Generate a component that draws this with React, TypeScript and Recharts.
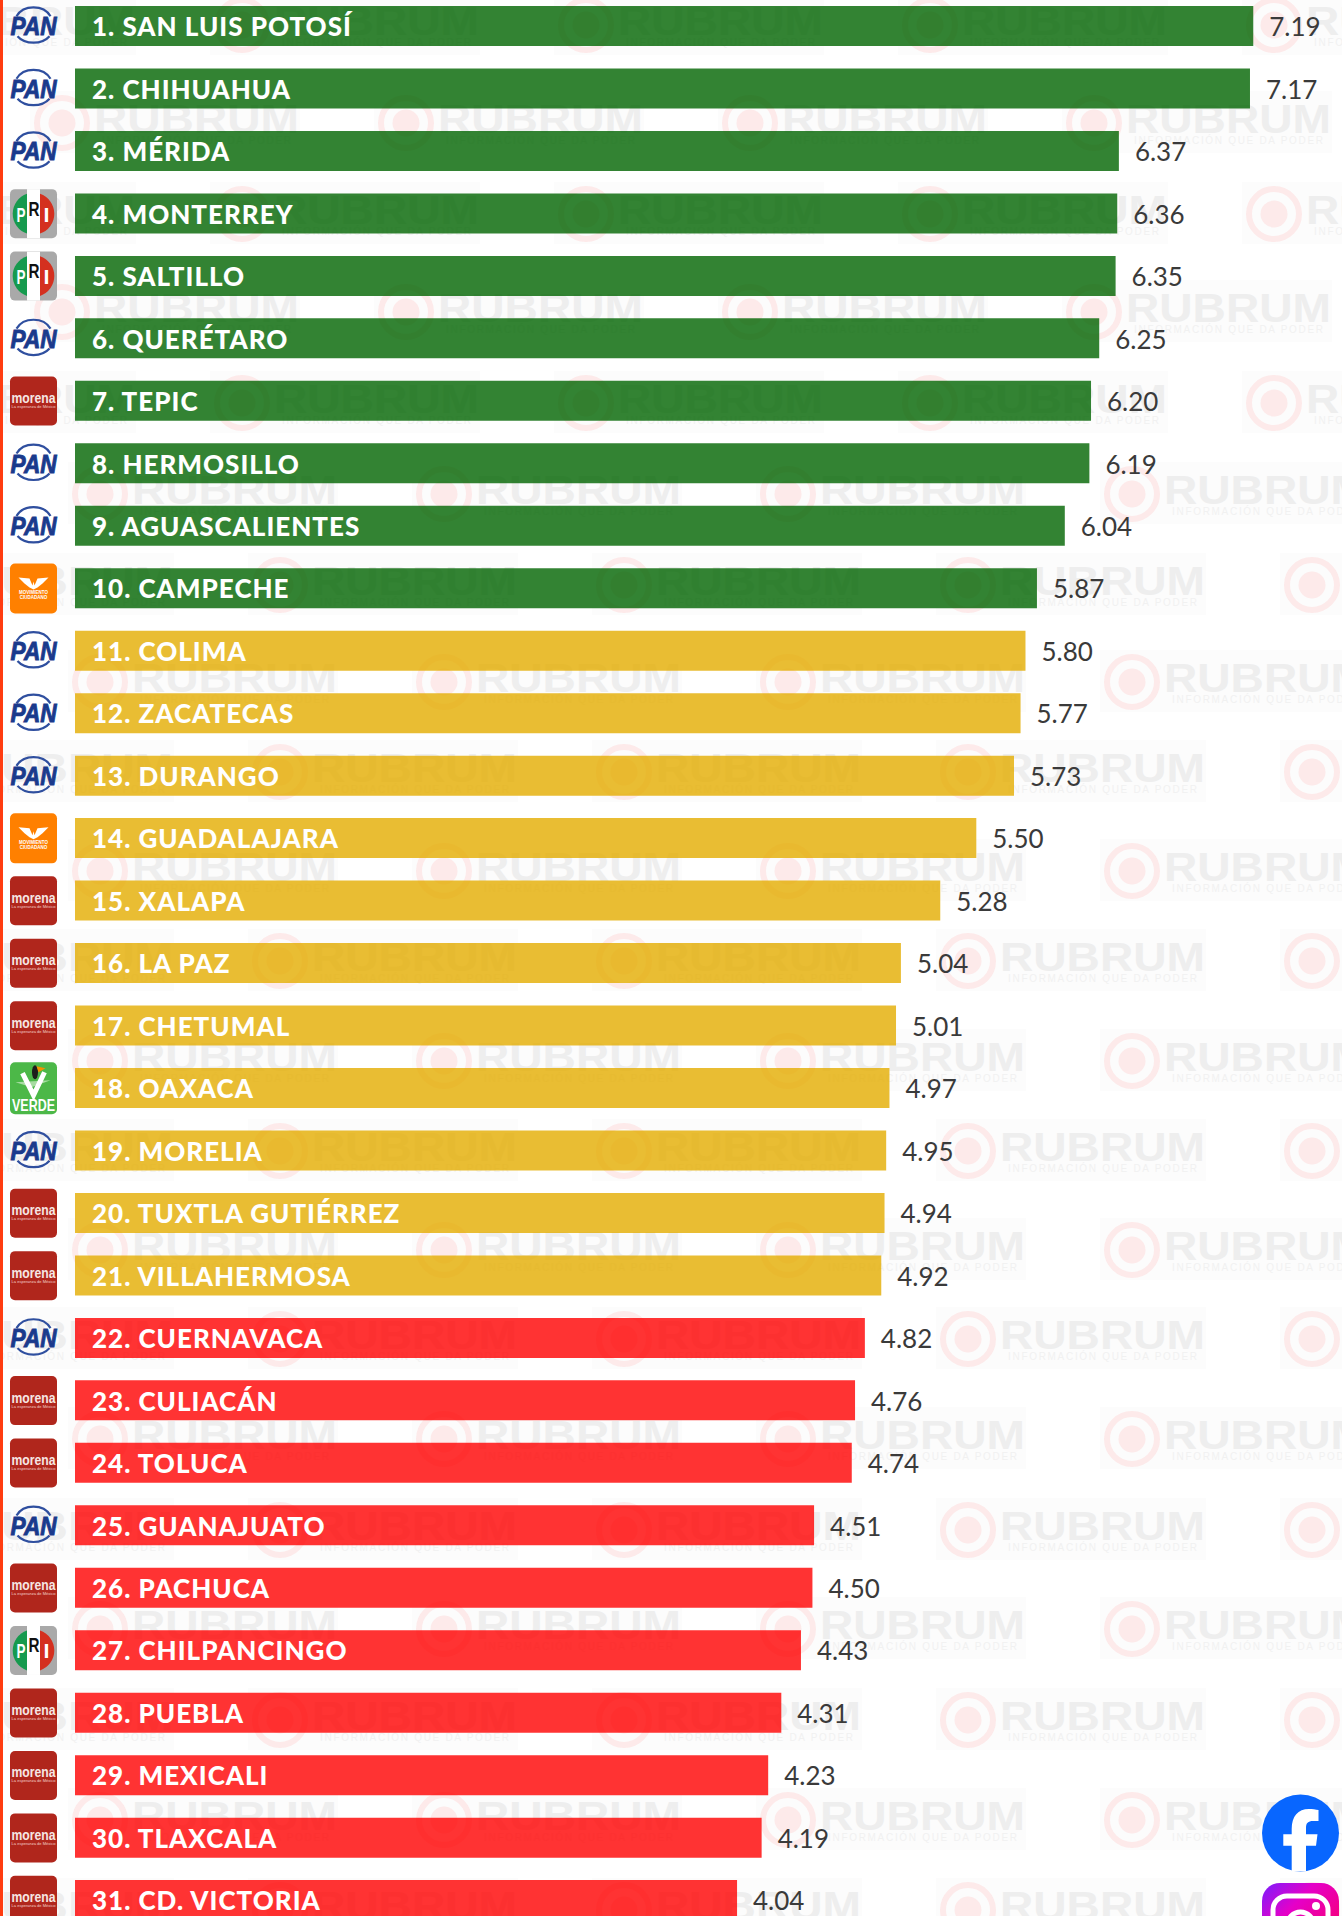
import React from 'react';
import { BarChart, Bar, XAxis, YAxis, Cell, LabelList } from 'recharts';

const cities = [
  '1. SAN LUIS POTOSÍ', '2. CHIHUAHUA', '3. MÉRIDA', '4. MONTERREY', '5. SALTILLO', '6. QUERÉTARO',
  '7. TEPIC', '8. HERMOSILLO', '9. AGUASCALIENTES', '10. CAMPECHE', '11. COLIMA', '12. ZACATECAS',
  '13. DURANGO', '14. GUADALAJARA', '15. XALAPA', '16. LA PAZ', '17. CHETUMAL', '18. OAXACA',
  '19. MORELIA', '20. TUXTLA GUTIÉRREZ', '21. VILLAHERMOSA', '22. CUERNAVACA', '23. CULIACÁN',
  '24. TOLUCA', '25. GUANAJUATO', '26. PACHUCA', '27. CHILPANCINGO', '28. PUEBLA', '29. MEXICALI',
  '30. TLAXCALA', '31. CD. VICTORIA',
];

const scores = [
  7.19, 7.17, 6.37, 6.36, 6.35, 6.25, 6.2, 6.19, 6.04, 5.87, 5.8, 5.77, 5.73, 5.5, 5.28, 5.04, 5.01,
  4.97, 4.95, 4.94, 4.92, 4.82, 4.76, 4.74, 4.51, 4.5, 4.43, 4.31, 4.23, 4.19, 4.04,
];

const parties = [
  'PAN', 'PAN', 'PAN', 'PRI', 'PRI', 'PAN', 'MORENA', 'PAN', 'PAN', 'MC', 'PAN', 'PAN', 'PAN', 'MC',
  'MORENA', 'MORENA', 'MORENA', 'VERDE', 'PAN', 'MORENA', 'MORENA', 'PAN', 'MORENA', 'MORENA', 'PAN',
  'MORENA', 'PRI', 'MORENA', 'MORENA', 'MORENA', 'MORENA',
];

const tiers = [
  'high', 'high', 'high', 'high', 'high', 'high', 'high', 'high', 'high', 'high',
  'mid', 'mid', 'mid', 'mid', 'mid', 'mid', 'mid', 'mid', 'mid', 'mid', 'mid',
  'low', 'low', 'low', 'low', 'low', 'low', 'low', 'low', 'low', 'low',
];

// bars are 80% opaque so the watermark shows through them
const tierColors: Record<string, string> = { high: '#006400', mid: '#e4ad00', low: '#ff0000' };

const rows = cities.map((name, i) => ({ name, score: scores[i], party: parties[i], tier: tiers[i] }));

// watermark tiles, centre of each ring
const watermarkGroups = [
  { ys: [25, 214, 403], xs: [-102, 242, 586, 930, 1274] },
  { ys: [123, 312], xs: [62, 406, 750, 1094] },
  { ys: [494, 682, 871, 1061, 1250, 1439, 1629, 1820], xs: [100, 444, 788, 1132] },
  { ys: [585, 772, 961, 1151, 1339, 1530, 1720, 1910], xs: [-64, 280, 624, 968, 1312] },
];

const Watermark = ({ x, y }: { x: number; y: number }) => (
  <g>
    <rect x={x - 32} y={y - 32} width={270} height={62} fill="#fcfcfc" />
    <circle cx={x} cy={y} r={25} fill="none" stroke="#fdeaea" strokeWidth={6} />
    <circle cx={x} cy={y} r={13.5} fill="#fdeaea" />
    <text x={x + 32} y={y + 10} fontFamily="Liberation Sans" fontWeight={700} fontSize={40} fill="#eeeeee" textLength={205} lengthAdjust="spacingAndGlyphs">
      RUBRUM
    </text>
    <text x={x + 40} y={y + 21} fontFamily="Liberation Sans" fontSize={10} fill="#f1f1f1" textLength={189}>
      INFORMACIÓN QUE DA PODER
    </text>
  </g>
);

const PanLogo = () => (
  <g>
    <path d="M-17 -10 A19 16 0 0 1 17 -10" fill="none" stroke="#2f4f9f" strokeWidth={2.2} />
    <path d="M-16 10 A19 14 0 0 0 16 10" fill="none" stroke="#2f4f9f" strokeWidth={2.2} />
    <text x={-23} y={9} fontFamily="Liberation Sans" fontStyle="italic" fontWeight={700} fontSize={25} fill="#1a3a8c" stroke="#1a3a8c" strokeWidth={0.9} textLength={46} lengthAdjust="spacingAndGlyphs">
      PAN
    </text>
  </g>
);

const PriLogo = () => (
  <g>
    <rect x={-23.5} y={-24.5} width={47} height={49} rx={5} fill="#a9a9a9" />
    <rect x={-6.5} y={-24.5} width={13} height={49} fill="#fff" />
    <path d="M-6.5 -19.9 A21 21 0 0 0 -6.5 19.9 Z" fill="#169a4e" />
    <path d="M6.5 -19.9 A21 21 0 0 1 6.5 19.9 Z" fill="#d4301f" />
    <g fontFamily="Liberation Sans" fontWeight={700} fontSize={21}>
      <text x={-17} y={8} fill="#fff" textLength={9} lengthAdjust="spacingAndGlyphs">P</text>
      <text x={-5} y={2} fill="#111" textLength={11} lengthAdjust="spacingAndGlyphs">R</text>
      <text x={10} y={8} fill="#fff" textLength={6} lengthAdjust="spacingAndGlyphs">I</text>
    </g>
  </g>
);

const MorenaLogo = () => (
  <g>
    <rect x={-23.5} y={-24.5} width={47} height={49} rx={5} fill="#b0261c" />
    <text x={-22} y={2} fontFamily="Liberation Sans" fontWeight={700} fontSize={14} fill="#f6e6e4" textLength={44} lengthAdjust="spacingAndGlyphs">
      morena
    </text>
    <text x={-22} y={7} fontFamily="Liberation Sans" fontSize={4} fill="#f2d0cc" textLength={44} lengthAdjust="spacingAndGlyphs">
      La esperanza de México
    </text>
  </g>
);

const McLogo = () => (
  <g>
    <rect x={-23.5} y={-25} width={47} height={50} rx={5} fill="#ff8000" />
    <path d="M-15 -11 L-4 -10 L-1 -3 L0 -7 L1 -3 L4 -10 L15 -11 L9 -5 L4 -1 L0 1 L-4 -1 L-9 -5 Z" fill="#fff" />
    <g fontFamily="Liberation Sans" fontWeight={700} fontSize={4.5} fill="#fff" textAnchor="middle">
      <text x={0} y={6}>MOVIMIENTO</text>
      <text x={0} y={11}>CIUDADANO</text>
    </g>
  </g>
);

const VerdeLogo = () => (
  <g>
    <rect x={-23.5} y={-26} width={47} height={52} rx={5} fill="#4cb848" />
    <path d="M-18 -6 L17 -8 L-2 -1 Z" fill="#a7dca2" />
    <path d="M-11 -15 L0 7 L11 -16" fill="none" stroke="#fff" strokeWidth={5} />
    <ellipse cx={1.5} cy={-16} rx={3} ry={7} fill="#1d1d1b" />
    <path d="M3 -22 L12 -20 L5 -16 Z" fill="#f39200" />
    <text x={-21.5} y={23} fontFamily="Liberation Sans" fontWeight={700} fontSize={16} fill="#fff" textLength={43} lengthAdjust="spacingAndGlyphs">
      VERDE
    </text>
  </g>
);

const logos: Record<string, React.FC> = {
  PAN: PanLogo,
  PRI: PriLogo,
  MORENA: MorenaLogo,
  MC: McLogo,
  VERDE: VerdeLogo,
};

const PartyTick = (props: any) => {
  const { y, index } = props;
  const Logo = logos[parties[index]];
  return (
    <g transform={`translate(33.5, ${y})`}>
      <Logo />
    </g>
  );
};

const SocialIcons = () => (
  <svg width={1342} height={1916} style={{ position: 'absolute', left: 0, top: 0 }}>
    <defs>
      <linearGradient id="ig" x1="0" y1="0" x2="1" y2="1">
        <stop offset="0" stopColor="#7a1dff" />
        <stop offset="0.35" stopColor="#e500c8" />
        <stop offset="1" stopColor="#ff0050" />
      </linearGradient>
    </defs>
    <circle cx={1300.5} cy={1833} r={38.5} fill="#0866ff" />
    <path
      d="M1291.7 1871.3 V1845.7 H1283.3 V1834.3 H1291.7 V1829 C1291.7 1816 1298 1809 1309 1809 C1312 1809 1316 1809.5 1318.5 1810 V1821 H1313 C1308 1821 1306 1823 1306 1828 V1834.3 H1317.5 L1316 1845.7 H1306 V1871.3 Z"
      fill="#fff"
    />
    <rect x={1262} y={1883} width={77} height={77} rx={18} fill="url(#ig)" />
    <rect x={1273} y={1896} width={55} height={55} rx={14} fill="none" stroke="#fff" strokeWidth={5} />
    <circle cx={1300.5} cy={1925} r={13} fill="none" stroke="#fff" strokeWidth={5} />
    <circle cx={1316} cy={1906} r={4} fill="#fff" />
  </svg>
);

export default function App() {
  return (
    <div style={{ position: 'absolute', left: 0, top: 0, width: 1342, height: 1916, overflow: 'hidden', background: '#fff' }}>
      <svg width={1342} height={1916} style={{ position: 'absolute', left: 0, top: 0 }}>
        {watermarkGroups.map((g) =>
          g.ys.map((y) => g.xs.map((x) => <Watermark key={`${x}-${y}`} x={x} y={y} />))
        )}
      </svg>
      <div style={{ position: 'absolute', left: 0, top: -5.2 }}>
        <BarChart width={1386} height={1936.6} data={rows} layout="vertical" margin={{ top: 0, right: 0, bottom: 0, left: 0 }}>
          <XAxis type="number" domain={[0, 8]} hide />
          <YAxis type="category" dataKey="name" width={75} axisLine={false} tickLine={false} interval={0} tick={<PartyTick />} />
          <Bar dataKey="score" barSize={40} fillOpacity={0.8} isAnimationActive={false}>
            {rows.map((r) => (
              <Cell key={r.name} fill={tierColors[r.tier]} />
            ))}
            <LabelList dataKey="name" position="insideLeft" offset={17} dy={1} fill="#ffffff" fillOpacity={1} fontSize={26} fontWeight={900} letterSpacing={1} fontFamily="Lato" />
            <LabelList
              dataKey="score"
              position="right"
              offset={16}
              dy={1}
              fill="#3a3a3a"
              fillOpacity={1}
              fontSize={26}
              fontFamily="Lato"
              formatter={(v: any) => Number(v).toFixed(2)}
            />
          </Bar>
        </BarChart>
      </div>
      <div style={{ position: 'absolute', left: 0, top: 0, width: 3, height: 1916, background: '#ff3c10' }} />
      <SocialIcons />
    </div>
  );
}
